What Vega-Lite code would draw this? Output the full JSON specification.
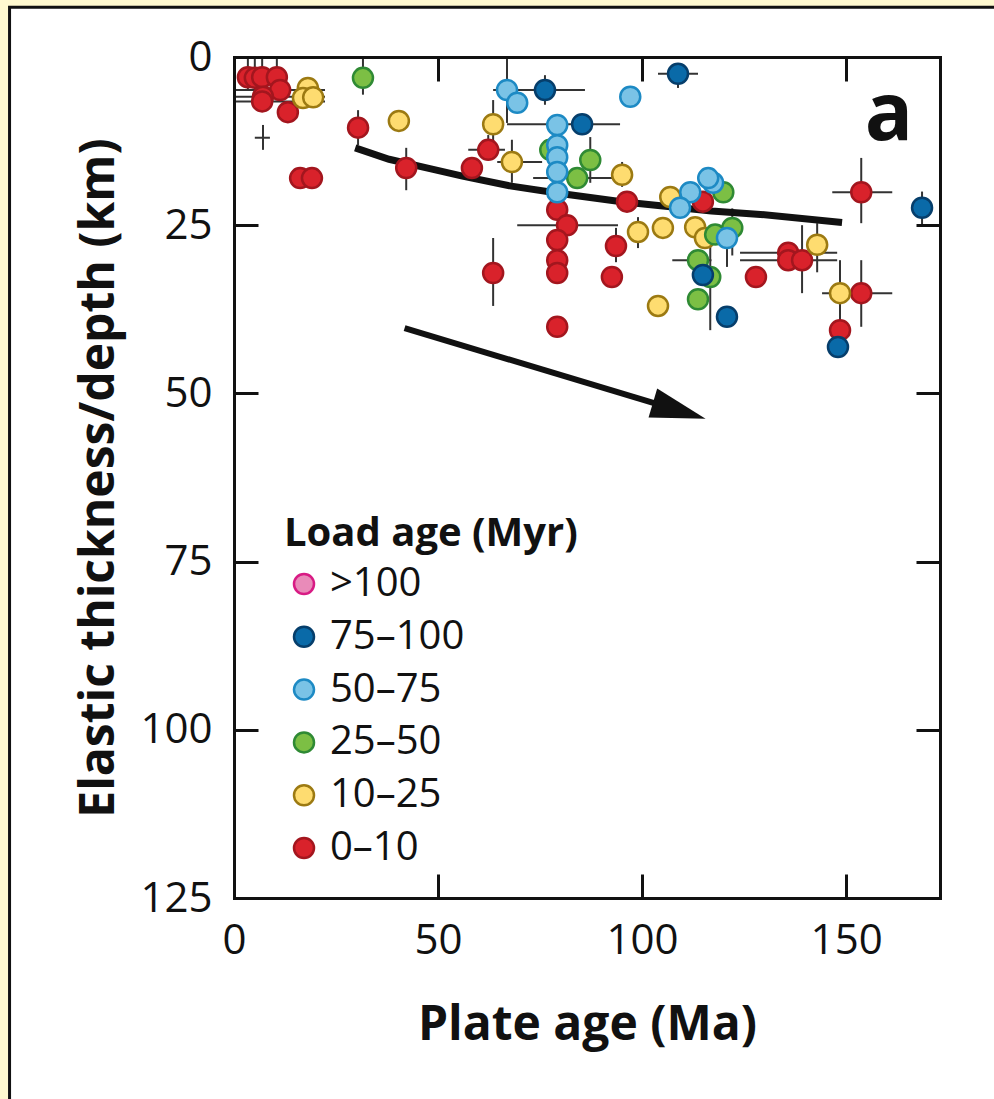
{
  "$schema": "https://vega.github.io/schema/vega-lite/v6.json",
  "width": 706,
  "height": 841,
  "autosize": {"type": "none"},
  "padding": {"left": 234, "top": 57, "right": 54, "bottom": 201},
  "background": "#fff9cf",
  "config": {"view": {"stroke": null}, "font": "Open Sans"},
  "datasets": {
    "panel": [{"x0": -55, "x1": 200, "y0": -7.4, "y1": 170}],
    "trend": [
      {"age": 29.7, "depth": 13.5}, {"age": 38, "depth": 15.2}, {"age": 48, "depth": 16.6},
      {"age": 56, "depth": 17.7}, {"age": 68, "depth": 19.2}, {"age": 80, "depth": 20.3},
      {"age": 95, "depth": 21.5}, {"age": 117, "depth": 22.9}, {"age": 129, "depth": 23.4},
      {"age": 149, "depth": 24.6}
    ],
    "arrow": [{"age": 41.8, "depth": 40.3}, {"age": 106, "depth": 52.0}],
    "head": [{"age": 109.1, "depth": 52.6}],
    "panelLabel": [{"age": 160.5, "depth": 12.3, "label": "a"}],
    "sites": [
      {"age": 3.4, "depth": 3.0, "load": "0–10", "dlo": 0, "dhi": 5},
      {"age": 5.1, "depth": 3.1, "load": "0–10", "dlo": 0, "dhi": 5},
      {"age": 6.9, "depth": 3.0, "load": "0–10", "dlo": 0, "dhi": 5},
      {"age": 10.5, "depth": 3.0, "load": "0–10", "dlo": 0, "dhi": 5},
      {"age": 11.3, "depth": 4.9, "load": "0–10", "alo": 0, "ahi": 22.3},
      {"age": 7.1, "depth": 5.9, "load": "0–10", "alo": 0, "ahi": 22.3},
      {"age": 6.9, "depth": 6.6, "load": "0–10", "alo": 0, "ahi": 22.3},
      {"age": 13.2, "depth": 8.2, "load": "0–10"},
      {"age": 16.2, "depth": 18.0, "load": "0–10"},
      {"age": 19.1, "depth": 18.0, "load": "0–10"},
      {"age": 30.4, "depth": 10.5, "load": "0–10", "dlo": 7.9, "dhi": 13.1},
      {"age": 42.2, "depth": 16.5, "load": "0–10", "dlo": 13.5, "dhi": 19.8},
      {"age": 58.3, "depth": 16.5, "load": "0–10"},
      {"age": 62.3, "depth": 13.8, "load": "0–10", "alo": 57.4, "ahi": 66.4, "dlo": 11.6, "dhi": 15.3},
      {"age": 96.3, "depth": 21.5, "load": "0–10"},
      {"age": 79.2, "depth": 22.7, "load": "0–10"},
      {"age": 81.6, "depth": 25.0, "load": "0–10", "alo": 69.4, "ahi": 94.1},
      {"age": 79.2, "depth": 27.2, "load": "0–10"},
      {"age": 79.2, "depth": 30.2, "load": "0–10"},
      {"age": 79.2, "depth": 32.1, "load": "0–10"},
      {"age": 63.5, "depth": 32.1, "load": "0–10", "dlo": 26.9, "dhi": 37.0},
      {"age": 79.2, "depth": 40.1, "load": "0–10"},
      {"age": 93.6, "depth": 28.1, "load": "0–10", "dlo": 25.4, "dhi": 30.5},
      {"age": 92.6, "depth": 32.7, "load": "0–10"},
      {"age": 114.9, "depth": 21.5, "load": "0–10"},
      {"age": 153.7, "depth": 20.1, "load": "0–10", "alo": 146.6, "ahi": 161.3, "dlo": 15.0, "dhi": 24.7},
      {"age": 135.8, "depth": 29.1, "load": "0–10", "alo": 124, "ahi": 147.8},
      {"age": 135.8, "depth": 30.2, "load": "0–10", "alo": 124, "ahi": 147.8},
      {"age": 139.2, "depth": 30.2, "load": "0–10", "dlo": 25, "dhi": 35.1},
      {"age": 127.9, "depth": 32.7, "load": "0–10"},
      {"age": 153.7, "depth": 35.1, "load": "0–10", "alo": 148.5, "ahi": 161.3, "dlo": 30.2, "dhi": 40.1},
      {"age": 148.5, "depth": 40.6, "load": "0–10"},
      {"age": 18.1, "depth": 4.6, "load": "10–25"},
      {"age": 16.9, "depth": 6.1, "load": "10–25"},
      {"age": 19.4, "depth": 6.0, "load": "10–25"},
      {"age": 40.4, "depth": 9.5, "load": "10–25"},
      {"age": 63.5, "depth": 10.0, "load": "10–25", "dlo": 6.4, "dhi": 12.5},
      {"age": 68.1, "depth": 15.6, "load": "10–25", "alo": 64.5, "ahi": 75.5, "dlo": 12.3, "dhi": 18.7},
      {"age": 95.1, "depth": 17.5, "load": "10–25", "dlo": 15.6, "dhi": 19.3},
      {"age": 106.9, "depth": 20.8, "load": "10–25"},
      {"age": 99.0, "depth": 26.0, "load": "10–25", "dlo": 23.8, "dhi": 28.4},
      {"age": 105.1, "depth": 25.4, "load": "10–25"},
      {"age": 113.0, "depth": 25.3, "load": "10–25"},
      {"age": 115.4, "depth": 26.9, "load": "10–25"},
      {"age": 103.9, "depth": 37.0, "load": "10–25"},
      {"age": 142.9, "depth": 27.9, "load": "10–25", "dlo": 24.7, "dhi": 32},
      {"age": 148.5, "depth": 35.1, "load": "10–25", "alo": 144.1, "ahi": 153, "dlo": 30.2, "dhi": 40.6},
      {"age": 31.6, "depth": 3.1, "load": "25–50", "dlo": 0, "dhi": 5.6},
      {"age": 77.5, "depth": 13.8, "load": "25–50"},
      {"age": 87.3, "depth": 15.3, "load": "25–50", "dlo": 11.9, "dhi": 18.7},
      {"age": 84.1, "depth": 18.0, "load": "25–50", "alo": 73.3, "ahi": 93.9},
      {"age": 119.9, "depth": 20.1, "load": "25–50"},
      {"age": 122.1, "depth": 25.4, "load": "25–50", "dlo": 22.5, "dhi": 29.5},
      {"age": 117.9, "depth": 26.4, "load": "25–50"},
      {"age": 113.7, "depth": 30.2, "load": "25–50", "alo": 107.4, "ahi": 117},
      {"age": 116.7, "depth": 32.7, "load": "25–50", "dlo": 28, "dhi": 40.6},
      {"age": 113.7, "depth": 36.0, "load": "25–50"},
      {"age": 66.9, "depth": 4.9, "load": "50–75", "dlo": 0, "dhi": 9.8},
      {"age": 69.4, "depth": 6.8, "load": "50–75"},
      {"age": 97.1, "depth": 5.9, "load": "50–75"},
      {"age": 79.2, "depth": 10.1, "load": "50–75"},
      {"age": 79.2, "depth": 13.1, "load": "50–75"},
      {"age": 79.2, "depth": 14.9, "load": "50–75"},
      {"age": 79.2, "depth": 17.1, "load": "50–75"},
      {"age": 79.2, "depth": 20.1, "load": "50–75"},
      {"age": 111.8, "depth": 20.1, "load": "50–75"},
      {"age": 117.4, "depth": 18.7, "load": "50–75"},
      {"age": 116.2, "depth": 18.0, "load": "50–75"},
      {"age": 109.3, "depth": 22.4, "load": "50–75"},
      {"age": 120.8, "depth": 26.9, "load": "50–75", "dlo": 24.2, "dhi": 31.2},
      {"age": 76.2, "depth": 4.9, "load": "75–100", "alo": 63.5, "ahi": 86.0, "dlo": 2.7, "dhi": 7.1},
      {"age": 108.8, "depth": 2.5, "load": "75–100", "alo": 103.9, "ahi": 113.7, "dlo": 1.2, "dhi": 4.6},
      {"age": 85.3, "depth": 10.0, "load": "75–100", "alo": 66.9, "ahi": 94.6},
      {"age": 168.6, "depth": 22.4, "load": "75–100", "dlo": 20, "dhi": 25},
      {"age": 114.9, "depth": 32.4, "load": "75–100"},
      {"age": 120.8, "depth": 38.6, "load": "75–100"},
      {"age": 148.0, "depth": 43.1, "load": "75–100"},
      {"age": 7.1, "depth": 12.0, "alo": 5.1, "ahi": 8.8, "dlo": 10.1, "dhi": 13.8}
    ]
  },
  "resolve": {"axis": {"x": "independent", "y": "independent"}},
  "layer": [
    {
      "data": {"name": "panel"},
      "mark": {"type": "rect", "fill": "white", "stroke": "#111111", "strokeWidth": 3, "clip": false},
      "encoding": {
        "x": {
          "field": "x0", "type": "quantitative",
          "scale": {"domain": [0, 173], "nice": false, "zero": false},
          "axis": {
            "orient": "bottom", "values": [0, 50, 100, 150], "grid": false, "zindex": 1,
            "tickSize": -24, "tickWidth": 3, "tickColor": "#111111",
            "domainWidth": 3, "domainColor": "#111111", "domainCap": "square",
            "labelFont": "Open Sans", "labelFontSize": 42, "labelColor": "#111111",
            "labelPadding": 46, "labelFlush": false, "labelOverlap": false,
            "title": "Plate age (Ma)", "titleFont": "Open Sans", "titleFontSize": 48,
            "titleFontWeight": "bold", "titleColor": "#111111", "titlePadding": 40
          }
        },
        "x2": {"field": "x1"},
        "y": {
          "field": "y0", "type": "quantitative",
          "scale": {"domain": [0, 125], "reverse": true, "nice": false, "zero": false},
          "axis": {
            "orient": "left", "values": [0, 25, 50, 75, 100, 125], "grid": false, "zindex": 1,
            "tickSize": -24, "tickWidth": 3, "tickColor": "#111111",
            "domainWidth": 3, "domainColor": "#111111", "domainCap": "square",
            "labelFont": "Open Sans", "labelFontSize": 42, "labelColor": "#111111",
            "labelPadding": 46, "labelFlush": false, "labelOverlap": false,
            "title": "Elastic thickness/depth (km)", "titleFont": "Open Sans", "titleFontSize": 48,
            "titleFontWeight": "bold", "titleColor": "#111111", "titlePadding": 16
          }
        },
        "y2": {"field": "y1"}
      }
    },
    {
      "data": {"name": "sites"},
      "transform": [{"filter": "isValid(datum.dlo)"}],
      "mark": {"type": "rule", "color": "#333333", "strokeWidth": 2},
      "encoding": {
        "x": {"field": "age", "type": "quantitative", "scale": {"domain": [0, 173], "nice": false, "zero": false}, "axis": null},
        "y": {"field": "dlo", "type": "quantitative", "scale": {"domain": [0, 125], "reverse": true, "nice": false, "zero": false}, "axis": null},
        "y2": {"field": "dhi"}
      }
    },
    {
      "data": {"name": "sites"},
      "transform": [{"filter": "isValid(datum.alo)"}],
      "mark": {"type": "rule", "color": "#333333", "strokeWidth": 2},
      "encoding": {
        "x": {"field": "alo", "type": "quantitative", "scale": {"domain": [0, 173], "nice": false, "zero": false}, "axis": null},
        "x2": {"field": "ahi"},
        "y": {"field": "depth", "type": "quantitative", "scale": {"domain": [0, 125], "reverse": true, "nice": false, "zero": false}, "axis": null}
      }
    },
    {
      "data": {"name": "trend"},
      "mark": {"type": "line", "color": "#111111", "strokeWidth": 7, "strokeCap": "butt"},
      "encoding": {
        "x": {
          "field": "age", "type": "quantitative",
          "scale": {"domain": [0, 173], "nice": false, "zero": false},
          "axis": {
            "orient": "top", "values": [0, 50, 100, 150], "grid": false, "zindex": 1,
            "labels": false, "title": null,
            "tickSize": -24, "tickWidth": 3, "tickColor": "#111111",
            "domainWidth": 3, "domainColor": "#111111", "domainCap": "square"
          }
        },
        "y": {
          "field": "depth", "type": "quantitative",
          "scale": {"domain": [0, 125], "reverse": true, "nice": false, "zero": false},
          "axis": {
            "orient": "right", "values": [0, 25, 50, 75, 100, 125], "grid": false, "zindex": 1,
            "labels": false, "title": null,
            "tickSize": -24, "tickWidth": 3, "tickColor": "#111111",
            "domainWidth": 3, "domainColor": "#111111", "domainCap": "square"
          }
        }
      }
    },
    {
      "data": {"name": "arrow"},
      "mark": {"type": "line", "color": "#111111", "strokeWidth": 6, "strokeCap": "butt"},
      "encoding": {
        "x": {"field": "age", "type": "quantitative", "scale": {"domain": [0, 173], "nice": false, "zero": false}, "axis": null},
        "y": {"field": "depth", "type": "quantitative", "scale": {"domain": [0, 125], "reverse": true, "nice": false, "zero": false}, "axis": null}
      }
    },
    {
      "data": {"name": "head"},
      "mark": {"type": "point", "shape": "M -1 -0.55 L 1 0 L -1 0.55 Z", "size": 3025, "angle": 16.6, "filled": true, "opacity": 1, "color": "#111111", "strokeWidth": 0},
      "encoding": {
        "x": {"field": "age", "type": "quantitative", "scale": {"domain": [0, 173], "nice": false, "zero": false}, "axis": null},
        "y": {"field": "depth", "type": "quantitative", "scale": {"domain": [0, 125], "reverse": true, "nice": false, "zero": false}, "axis": null}
      }
    },
    {
      "data": {"name": "sites"},
      "transform": [{"filter": "isValid(datum.load)"}],
      "mark": {"type": "circle", "size": 400, "strokeWidth": 2.5, "opacity": 1},
      "encoding": {
        "x": {"field": "age", "type": "quantitative", "scale": {"domain": [0, 173], "nice": false, "zero": false}, "axis": null},
        "y": {"field": "depth", "type": "quantitative", "scale": {"domain": [0, 125], "reverse": true, "nice": false, "zero": false}, "axis": null},
        "fill": {
          "field": "load", "type": "nominal",
          "scale": {"domain": [">100", "75–100", "50–75", "25–50", "10–25", "0–10"], "range": ["#e98bb9", "#0a6aa8", "#7ac3e6", "#7cbf44", "#fedc70", "#d9222b"]},
          "legend": {
            "orient": "none", "legendX": 50, "legendY": 457, "title": "Load age (Myr)", "titleLimit": 500,
            "titleFont": "Open Sans", "titleFontSize": 40, "titleFontWeight": "bold", "titleColor": "#111111", "titlePadding": 10,
            "labelFont": "Open Sans", "labelFontSize": 40, "labelColor": "#111111", "labelOffset": 6, "labelLimit": 400,
            "symbolType": "circle", "symbolSize": 400, "symbolStrokeWidth": 2.5, "rowPadding": 12.8
          }
        },
        "stroke": {
          "field": "load", "type": "nominal",
          "scale": {"domain": [">100", "75–100", "50–75", "25–50", "10–25", "0–10"], "range": ["#d81b84", "#063e6b", "#1d8ac4", "#2f8a34", "#9c7a12", "#a3161e"]},
          "legend": {
            "orient": "none", "legendX": 50, "legendY": 457, "title": "Load age (Myr)", "titleLimit": 500,
            "titleFont": "Open Sans", "titleFontSize": 40, "titleFontWeight": "bold", "titleColor": "#111111", "titlePadding": 10,
            "labelFont": "Open Sans", "labelFontSize": 40, "labelColor": "#111111", "labelOffset": 6, "labelLimit": 400,
            "symbolType": "circle", "symbolSize": 400, "symbolStrokeWidth": 2.5, "rowPadding": 12.8
          }
        }
      }
    },
    {
      "data": {"name": "panelLabel"},
      "mark": {"type": "text", "font": "Open Sans", "fontSize": 80, "fontWeight": "bold", "color": "#111111", "align": "center", "baseline": "alphabetic"},
      "encoding": {
        "x": {"field": "age", "type": "quantitative", "scale": {"domain": [0, 173], "nice": false, "zero": false}, "axis": null},
        "y": {"field": "depth", "type": "quantitative", "scale": {"domain": [0, 125], "reverse": true, "nice": false, "zero": false}, "axis": null},
        "text": {"field": "label"}
      }
    }
  ]
}
